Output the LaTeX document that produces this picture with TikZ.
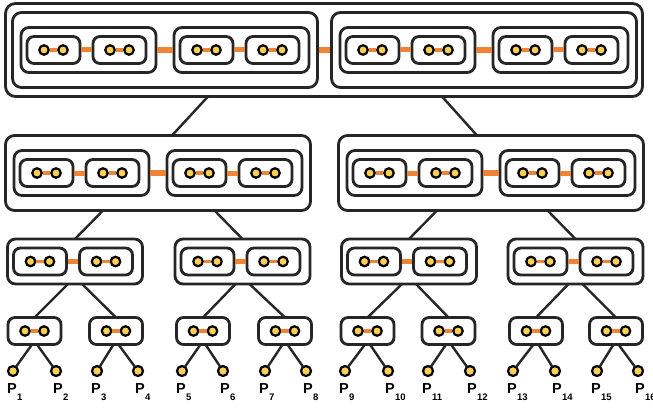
\documentclass[tikz,border=0pt]{standalone}
\usepackage{fontspec}
\setmainfont{Liberation Sans}
\usetikzlibrary{calc}
\definecolor{bord}{HTML}{262626}
\definecolor{dotY}{HTML}{FFD054}
\definecolor{linkO}{HTML}{F08436}
\tikzset{
 box/.style={draw=bord, line width=2.8pt, rounded corners=7pt, inner sep=0pt, outer sep=0pt, fill=white},
 boxa/.style={box, minimum width=53pt, minimum height=27pt},
 boxb/.style={box, minimum width=135pt, minimum height=45pt, rounded corners=8pt},
 boxc/.style={box, minimum width=305pt, minimum height=75pt, rounded corners=9pt},
 boxd/.style={box, minimum width=637pt, minimum height=93pt, rounded corners=10pt},
 dotin/.style={circle, draw=black, line width=2.2pt, fill=dotY, minimum size=9.5pt, inner sep=0pt, outer sep=0pt},
 leaf/.style={dotin, minimum size=10pt},
 linkA/.style={draw=linkO, line width=3.5pt, shorten <=1.1pt, shorten >=1.1pt},
 linkB/.style={draw=linkO, line width=5pt, shorten <=1.4pt, shorten >=1.4pt},
 linkC/.style={draw=linkO, line width=5.5pt, shorten <=1.4pt, shorten >=1.4pt},
 linkD/.style={draw=linkO, line width=6pt, shorten <=1.4pt, shorten >=1.4pt},
 conn/.style={draw=bord, line width=2.4pt},
 lbl/.style={inner sep=0pt, anchor=base west, font=\bfseries\fontsize{14.5}{15}\selectfont}
}
\newcommand{\Lone}[3]{%
 \node[boxa] (#1) at (#2,#3) {};
 \node[dotin] (#1a) at (#2-9.5,#3) {};
 \node[dotin] (#1b) at (#2+9.5,#3) {};
 \draw[linkA] (#1a) -- (#1b);
}
\newcommand{\Ltwo}[3]{%
 \node[boxb] (#1) at (#2,#3) {};
 \Lone{#1l}{#2-35}{#3}
 \Lone{#1r}{#2+31}{#3}
 \draw[linkB] (#1l) -- (#1r);
}
\newcommand{\Lthree}[3]{%
 \node[boxc] (#1) at (#2,#3) {};
 \Ltwo{#1l}{#2-76.5}{#3}
 \Ltwo{#1r}{#2+76.5}{#3}
 \draw[linkC] (#1l) -- (#1r);
}
\newcommand{\Leaf}[6]{%
 \node[leaf] (#1) at (#2,371) {};
 \draw[conn] ($(#3.south)+(#4,0)$) -- (#1);
 \node[lbl] (#1t) at (#2+#5,393) {P\kern0.3pt\raisebox{-7.5pt}{\fontsize{9.5}{10}\selectfont #6}};
}
\begin{document}
\begin{tikzpicture}[x=1pt,y=-1pt]
\useasboundingbox (0,0) rectangle (653,412);
% top
\node[boxd] (T) at (324,50) {};
\Lthree{Ta}{165}{50}
\Lthree{Tb}{484}{50}
\draw[linkD] (Ta) -- (Tb);
% row 2
\Lthree{Ra}{158}{173}
\Lthree{Rb}{491}{173}
\draw[conn] ($(T.south)+(-116,0)$) -- ($(Ra.north)+(14,0)$);
\draw[conn] ($(T.south)+(118,0)$) -- ($(Rb.north)+(-14,0)$);
% row 3
\Ltwo{Sa}{75}{261.5}
\Ltwo{Sb}{242.5}{261.5}
\Ltwo{Sc}{409}{261.5}
\Ltwo{Sd}{575.5}{261.5}
\draw[conn] ($(Sa.north |- Ra.south)+(28,0)$) -- (Sa.north);
\draw[conn] ($(Sb.north |- Ra.south)+(-28,0)$) -- (Sb.north);
\draw[conn] ($(Sc.north |- Rb.south)+(28,0)$) -- (Sc.north);
\draw[conn] ($(Sd.north |- Rb.south)+(-28,0)$) -- (Sd.north);
% row 4
\Lone{B1}{34.5}{331}
\Lone{B2}{116}{331}
\Lone{B3}{203}{331}
\Lone{B4}{285}{331}
\Lone{B5}{367.5}{331}
\Lone{B6}{448.5}{331}
\Lone{B7}{536}{331}
\Lone{B8}{616}{331}
\draw[conn] ($(Sa.south)+(-7,0)$) -- (B1.north);
\draw[conn] ($(Sa.south)+(7,0)$) -- (B2.north);
\draw[conn] ($(Sb.south)+(-7,0)$) -- (B3.north);
\draw[conn] ($(Sb.south)+(7,0)$) -- (B4.north);
\draw[conn] ($(Sc.south)+(-7,0)$) -- (B5.north);
\draw[conn] ($(Sc.south)+(7,0)$) -- (B6.north);
\draw[conn] ($(Sd.south)+(-7,0)$) -- (B7.north);
\draw[conn] ($(Sd.south)+(7,0)$) -- (B8.north);
% leaves
\Leaf{P1}{13}{B1}{-2.5}{-6}{1}
\Leaf{P2}{56}{B1}{2.5}{-3}{2}
\Leaf{P3}{97}{B2}{-2.5}{-6}{3}
\Leaf{P4}{138}{B2}{2.5}{-3}{4}
\Leaf{P5}{182}{B3}{-2.5}{-6}{5}
\Leaf{P6}{223}{B3}{2.5}{-3}{6}
\Leaf{P7}{265}{B4}{-2.5}{-6}{7}
\Leaf{P8}{306}{B4}{2.5}{-3}{8}
\Leaf{P9}{345}{B5}{-2.5}{-6}{9}
\Leaf{P10}{388}{B5}{2.5}{-3}{10}
\Leaf{P11}{428}{B6}{-2.5}{-6}{11}
\Leaf{P12}{470}{B6}{2.5}{-3}{12}
\Leaf{P13}{513}{B7}{-2.5}{-6}{13}
\Leaf{P14}{555}{B7}{2.5}{-3}{14}
\Leaf{P15}{597}{B8}{-2.5}{-6}{15}
\Leaf{P16}{638}{B8}{2.5}{-3}{16}
\end{tikzpicture}
\end{document}
